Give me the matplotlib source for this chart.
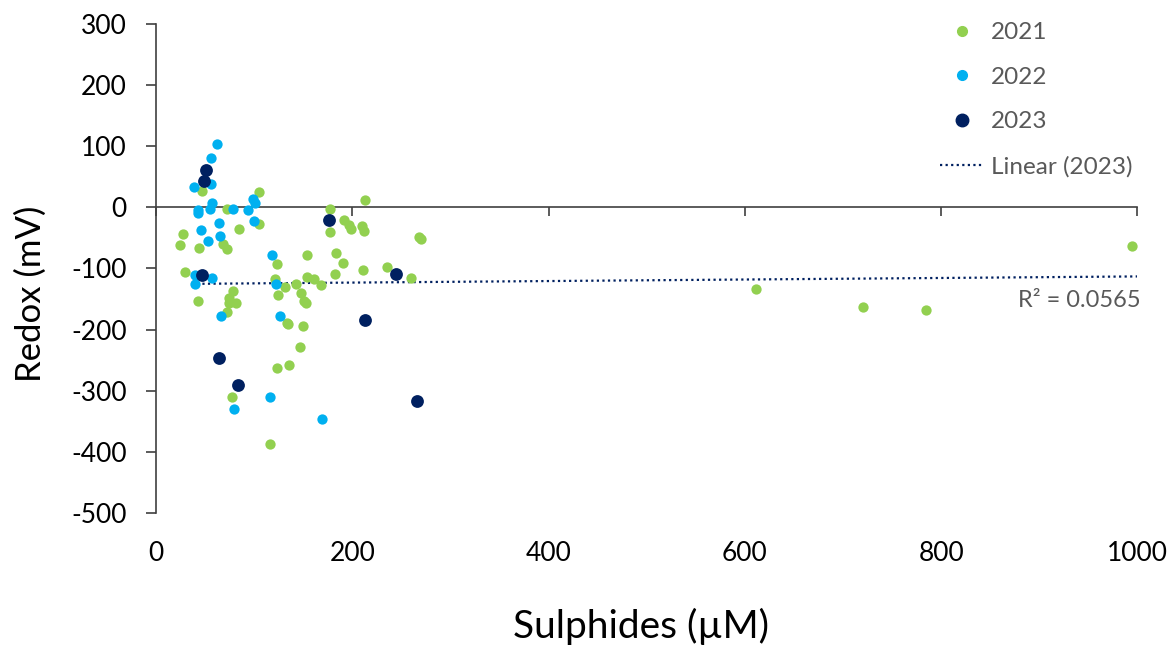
import numpy as np
import matplotlib
matplotlib.use("Agg")
import matplotlib.pyplot as plt
from matplotlib.lines import Line2D

plt.rcParams['font.family'] = ['Lato', 'DejaVu Sans']
plt.rcParams['axes.unicode_minus'] = False

# 2021 (green)
x_2021 = [46.9, 104.4, 72.8, 105.1, 84.4, 27.2, 24.2, 44.2, 68.1, 72.8,
          123.2, 29.6, 121.7, 131.6, 78.9, 42.6, 74.0, 81.1, 74.0, 124.0,
          72.1, 133.4, 134.4, 135.0, 123.2, 77.6, 116.6, 177.6, 213.0, 191.1,
          196.2, 199.0, 210.2, 211.5, 177.6, 267.7, 269.9, 153.4, 183.4, 190.8,
          182.3, 211.2, 235.0, 259.9, 153.4, 160.5, 168.0, 142.1, 147.4, 150.3,
          152.8, 149.7, 146.2, 611.0, 720.4, 785.0, 994.2]
y_2021 = [26.6, 24.9, -2.5, -27.5, -35.7, -43.9, -61.0, -65.9, -60.3, -68.5,
          -93.1, -105.2, -117.7, -131.0, -136.9, -153.3, -148.9, -156.0, -156.6, -143.0,
          -171.8, -189.0, -191.0, -258.2, -262.0, -310.7, -387.7, -2.0, 12.3, -20.0,
          -28.7, -35.7, -30.3, -38.5, -40.2, -48.9, -51.1, -78.4, -74.1, -91.0,
          -109.0, -102.5, -97.0, -115.0, -113.4, -116.9, -127.5, -126.2, -140.5, -152.5,
          -157.0, -194.0, -228.7, -133.6, -163.0, -167.7, -63.1]

# 2022 (light blue)
x_2022 = [62.6, 56.1, 38.8, 56.4, 57.1, 55.4, 42.6, 42.9, 78.9, 93.2,
          98.3, 101.0, 100.0, 64.0, 46.2, 65.6, 53.4, 118.1, 40.1, 57.4,
          39.8, 122.0, 126.5, 66.0, 115.6, 79.3, 168.7]
y_2022 = [103.0, 80.8, 32.5, 38.0, 7.9, -3.0, -4.6, -9.5, -2.0, -4.1,
          13.9, 6.9, -22.0, -25.4, -36.9, -46.7, -54.4, -77.4, -111.0, -115.0,
          -126.0, -125.4, -178.4, -178.4, -310.0, -330.0, -345.6]

# 2023 (navy)
x_2023 = [51.3, 48.7, 47.2, 64.0, 83.0, 175.8, 244.2, 213.0, 266.0]
y_2023 = [60.3, 43.4, -110.2, -247.0, -290.6, -20.0, -109.0, -184.8, -316.7]

# linear trend for 2023 as shown on the chart
trend_coef = [0.0126, -125.6]
trend_x = [47.2, 1000]
r2_text = "R² = 0.0565"

x_ticks = [0, 200, 400, 600, 800, 1000]
y_ticks = [300, 200, 100, 0, -100, -200, -300, -400, -500]

c21, c22, c23 = "#92D050", "#00B0F0", "#002060"
grey = "#595959"
dots = (0, (1, 1.5))

fig = plt.figure(figsize=(11.76, 6.53), dpi=100)
ax = fig.add_axes([0.1327, 0.2144, 0.8345, 0.7489])

ax.scatter(x_2021, y_2021, s=55, color=c21, linewidths=0, zorder=3)
ax.scatter(x_2022, y_2022, s=55, color=c22, linewidths=0, zorder=3)
ax.scatter(x_2023, y_2023, s=85, color=c23, linewidths=0, zorder=4)

tx = np.linspace(trend_x[0], trend_x[1], 50)
ax.plot(tx, np.polyval(trend_coef, tx), color=c23, linestyle=dots,
        linewidth=1.6, zorder=2)

ax.set_xlim(0, 1000)
ax.set_ylim(-500, 300)
ax.set_yticks(y_ticks)
ax.set_xticks(x_ticks)

for s in ["top", "right"]:
    ax.spines[s].set_visible(False)
ax.spines["bottom"].set_position(("data", 0))
for s in ["bottom", "left"]:
    ax.spines[s].set_color("#404040")
    ax.spines[s].set_linewidth(1.2)

ax.tick_params(axis="x", direction="out", length=6.5, width=1.2, color="#404040",
               labelbottom=False)
ax.tick_params(axis="y", direction="out", length=7, width=1.2, color="#404040",
               labelsize=19, pad=14)

# x labels sit below the plot, not on the zero line
sec = ax.secondary_xaxis("bottom")
sec.set_xticks(x_ticks)
sec.spines["bottom"].set_visible(False)
sec.tick_params(length=0, labelsize=19, pad=20)

fig.text(641 / 1176, 1 - 626 / 653, "Sulphides (µM)", fontsize=28,
         ha="center", va="center")
fig.text(31 / 1176, 1 - 294 / 653, "Redox (mV)", fontsize=25,
         ha="center", va="center", rotation=90)

ax.text(1003, -153, r2_text, fontsize=17, color=grey, ha="right", va="center")

handles = [
    Line2D([], [], marker="o", linestyle="none", color=c21, markersize=7),
    Line2D([], [], marker="o", linestyle="none", color=c22, markersize=7),
    Line2D([], [], marker="o", linestyle="none", color=c23, markersize=9),
    Line2D([], [], color=c23, linestyle=dots, linewidth=1.6),
]
leg = ax.legend(handles, ["2021", "2022", "2023", "Linear (2023)"],
                loc="upper left", bbox_to_anchor=(0.799, 1.004), frameon=False,
                fontsize=17.5, labelspacing=0.97, handlelength=1.8,
                handletextpad=0.3, borderpad=0, borderaxespad=0)
for t in leg.get_texts():
    t.set_color(grey)

fig.savefig("out.png", dpi=100)
